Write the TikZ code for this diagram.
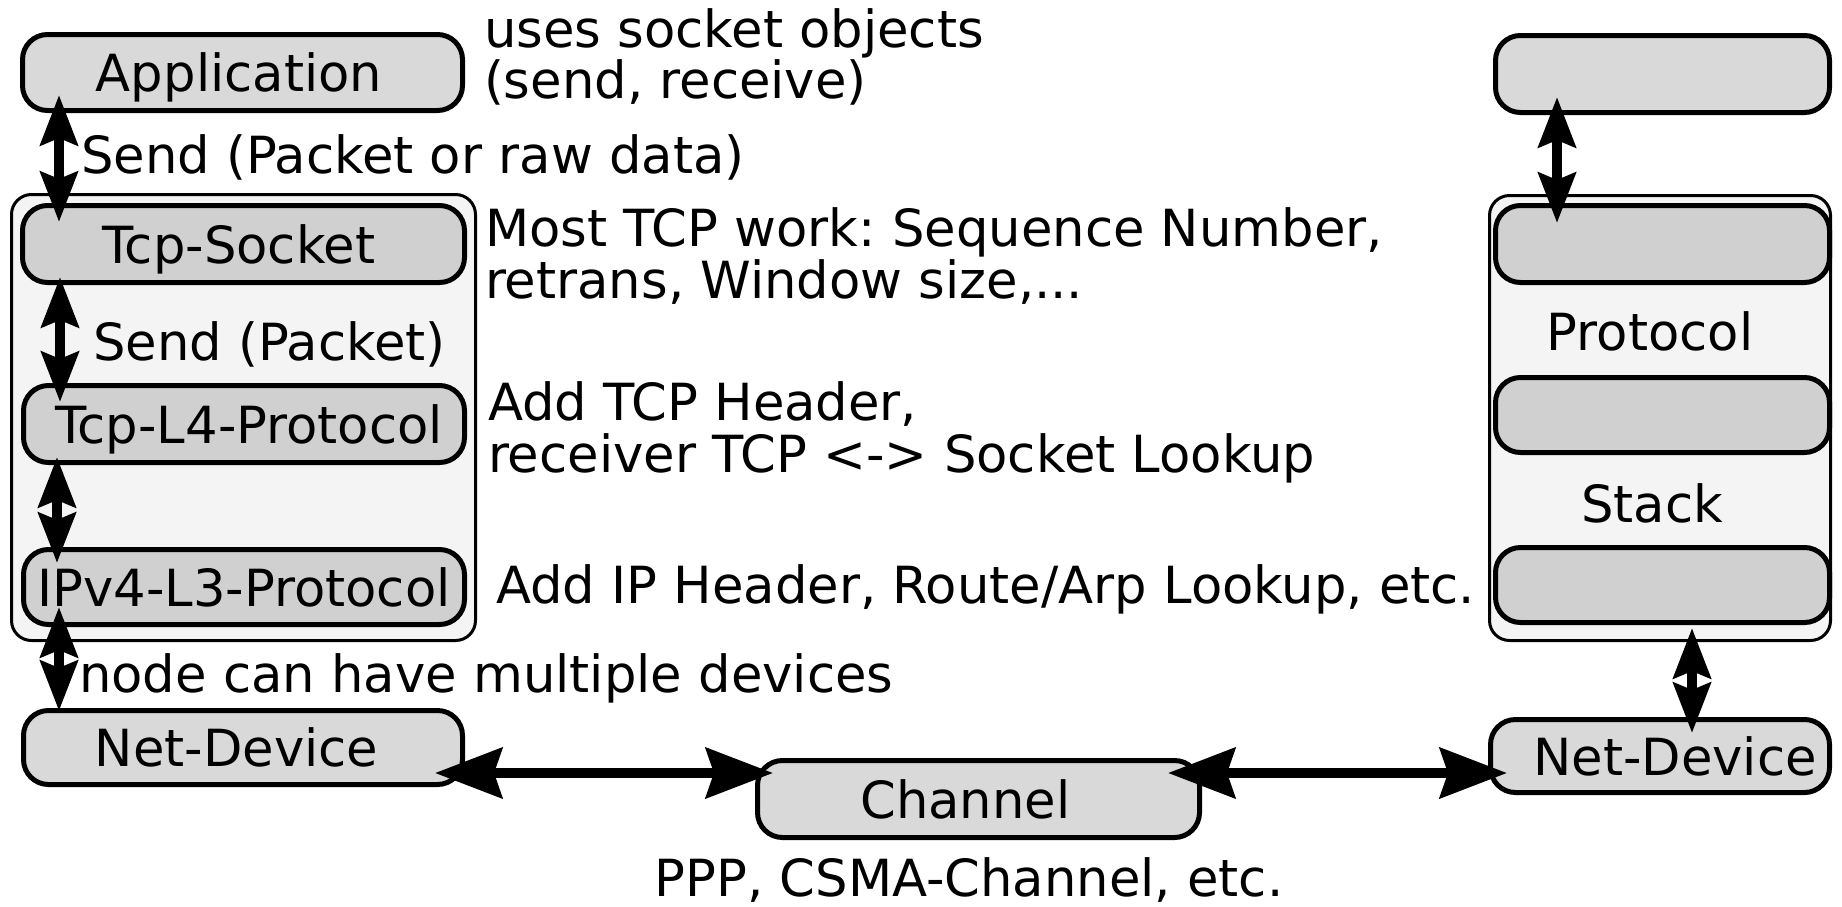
\documentclass[tikz,border=0pt]{standalone}
\usepackage{fontspec}
\setmainfont{DejaVu Sans}
\frenchspacing
\usetikzlibrary{arrows.meta,calc}
\definecolor{outerfill}{HTML}{D9D9D9}
\definecolor{innerfill}{HTML}{D0D0D0}
\definecolor{groupfill}{HTML}{F4F4F4}
\tikzset{
  every node/.style={font=\fontsize{25.6pt}{25.8pt}\selectfont, inner sep=0pt, outer sep=0pt},
  layer/.style={draw, line width=2.5pt, rounded corners=12.5pt, fill=outerfill, text height=19.4pt, text depth=0pt},
  sublayer/.style={layer, fill=innerfill},
  group/.style={draw, line width=1.5pt, rounded corners=10pt, fill=groupfill},
  note/.style={anchor=west, align=left},
  vhead/.tip={Stealth[length=25pt, width=18.5pt, inset=3.5pt]},
  hhead/.tip={Stealth[length=33.5pt, width=25pt, inset=4pt]},
  vlink/.style={line width=5pt, vhead-vhead},
  hlink/.style={line width=5pt, hhead-hhead},
}
\begin{document}
\begin{tikzpicture}[x=0.5pt, y=-0.5pt]
  \useasboundingbox (0,0) rectangle (1842,906);

  % enclosing stacks
  \node[group, minimum width=232pt, minimum height=223pt] (stackL) at (243.5,417.5) {};
  \node[group, minimum width=170.5pt, minimum height=222.5pt] (stackR) at (1660,418) {};

  % left node
  \node[layer, minimum width=220pt, minimum height=38pt] (app) at (242.5,72.5) {\hspace*{-3.5pt}Application};
  \node[sublayer, minimum width=221pt, minimum height=38.5pt] (sock) at (243.5,244) {\hspace*{-4.7pt}Tcp-Socket};
  \node[sublayer, minimum width=220.5pt, minimum height=38.5pt] (l4) at (244,424) {\hspace*{5pt}Tcp-L4-Protocol};
  \node[sublayer, minimum width=220.5pt, minimum height=37.5pt] (l3) at (244,587) {IPv4-L3-Protocol};
  \node[layer, minimum width=219.5pt, minimum height=37pt] (netL) at (243,747.5) {\hspace*{-6.5pt}Net-Device};

  % channel
  \node[layer, minimum width=221pt, minimum height=38.5pt] (chan) at (978.5,799) {\hspace*{-13pt}Channel};

  % right node
  \node[layer, minimum width=167pt, minimum height=38.5pt] (topR) at (1662.5,74) {};
  \node[sublayer, minimum width=167pt, minimum height=38.5pt] (r1) at (1662.5,244) {};
  \node[sublayer, minimum width=167pt, minimum height=37.5pt] (r2) at (1662.5,415) {};
  \node[sublayer, minimum width=167pt, minimum height=37.5pt] (r3) at (1662.5,585) {};
  \node[layer, minimum width=169.5pt, minimum height=36.5pt] (netR) at (1660,756) {\hspace*{15pt}Net-Device};
  \node (protoTxt) at (1650,331) {Protocol};
  \node (stackTxt) at (1652,503) {Stack};

  % annotations
  \node[note] (usesTxt) at (484,57) {uses socket objects\\(send, receive)};
  \node[note] (sendRaw) at (81,157) {Send (Packet or raw data)};
  \node[note] (tcpTxt) at (485,256) {Most TCP work: Sequence Number,\\retrans, Window size,...};
  \node[note] (sendPkt) at (93,344) {Send (Packet)};
  \node[note] (hdrTxt) at (488,432.5) {Add TCP Header,\\receiver TCP <-> Socket Lookup};
  \node[note] (ipTxt) at (496,589) {Add IP Header, Route/Arp Lookup, etc.};
  \node[note] (devTxt) at (79,678) {node can have multiple devices};
  \node (chanTxt) at (969,880) {PPP, CSMA-Channel, etc.};

  % vertical links
  \draw[vlink] ($(app.south west)+(36.5,-15.5)$) -- ($(sock.north west)+(36.5,16.5)$);
  \draw[vlink] ($(sock.south west)+(37.5,-5.5)$) -- ($(l4.north west)+(36.5,16.5)$);
  \draw[vlink] ($(l4.south west)+(33.5,-5.5)$) -- ($(l3.north west)+(33.5,13.5)$);
  \draw[vlink] ($(l3.south west)+(35.5,-17.5)$) -- ($(netL.north west)+(35.5,0.5)$);
  \draw[vlink] ($(topR.south west)+(61.5,-15.5)$) -- ($(r1.north west)+(61.5,17.5)$);
  \draw[vlink] ($(r3.south west)+(196.5,5.5)$) -- ($(netR.north west)+(201.5,13.5)$);

  % links through the channel
  \draw[hlink] ($(netL.east)+(-27.5,25.5)$) -- ($(chan.west)+(15.5,-26)$);
  \draw[hlink] ($(chan.east)+(-31.5,-26)$) -- ($(netR.west)+(16.5,17)$);
\end{tikzpicture}
\end{document}
